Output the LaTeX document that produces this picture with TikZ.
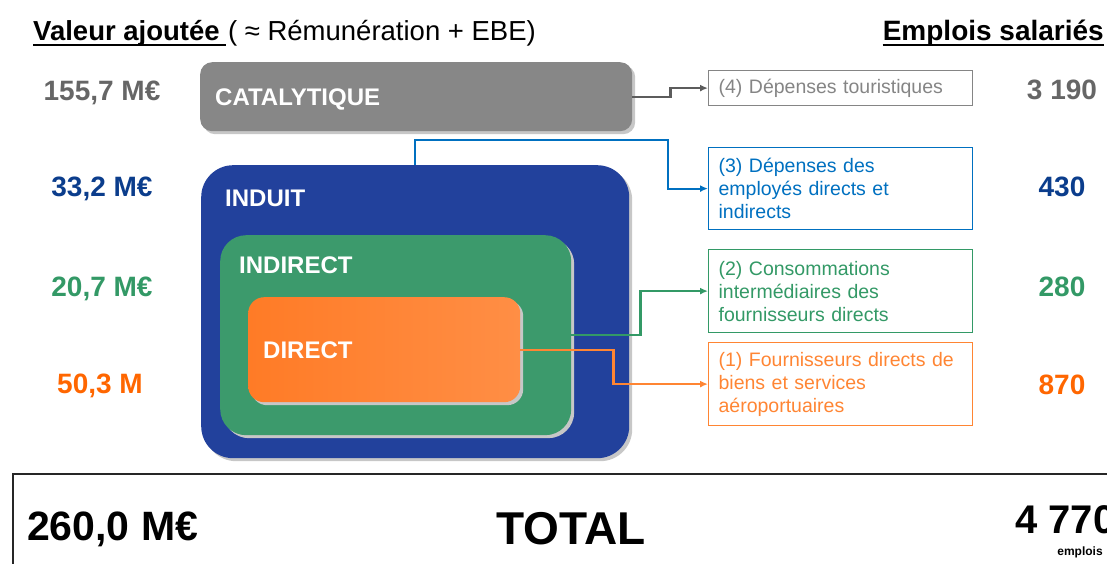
\documentclass[tikz,border=0pt]{standalone}
\usepackage{fontspec}
\setmainfont{Liberation Sans}
\usetikzlibrary{arrows.meta,shadows}
\definecolor{gris}{HTML}{666666}
\definecolor{grisfond}{HTML}{878787}
\definecolor{bleu}{HTML}{0B3D8C}
\definecolor{bleufond}{HTML}{22419C}
\definecolor{bleuclair}{HTML}{0070C0}
\definecolor{vert}{HTML}{339966}
\definecolor{vertfond}{HTML}{3C9A6C}
\definecolor{orange}{HTML}{FF6600}
\definecolor{orangeclair}{HTML}{FF8533}
\definecolor{orangea}{HTML}{FF7B26}
\definecolor{orangeb}{HTML}{FF8E45}
\begin{document}
\begin{tikzpicture}[x=1pt,y=-1pt,
    zone/.style={inner sep=0, anchor=north west, drop shadow={shadow xshift=3pt,shadow yshift=-3pt,fill=black!22,opacity=1}},
    titre/.style={text=white, font=\fontsize{24}{29}\selectfont\bfseries, anchor=base west, inner sep=0},
    chiffre/.style={font=\fontsize{28}{34}\selectfont\bfseries, anchor=base, inner sep=0},
    cadre/.style={draw=#1, text=#1, line width=1.2pt, anchor=north west, text width=244pt, inner xsep=10pt, align=left, font=\fontsize{19.5}{23}\selectfont},
    fleche/.style={draw=#1, line width=2.2pt, -{Latex[length=8pt,width=7pt]}}]
\useasboundingbox (0,0) rectangle (1107,564);
% en-tetes
\node[anchor=base west, inner sep=0, font=\fontsize{27.5}{33}\selectfont\bfseries] (va) at (33,41) {Valeur ajoutée};
\node[anchor=base west, inner sep=0, font=\fontsize{27.5}{33}\selectfont] (vb) at ([xshift=8pt]va.base east) {( ≈ Rémunération + EBE)};
\draw[line width=2pt] ([yshift=-4pt]va.base west) -- ([yshift=-4pt,xshift=6pt]va.base east);
\node[anchor=base east, inner sep=0, font=\fontsize{28}{33}\selectfont\bfseries] (es) at (1104,41) {Emplois salariés};
\draw[line width=2pt] ([yshift=-4pt]es.base west) -- ([yshift=-4pt]es.base east);
% zones
\node[zone, fill=grisfond, rounded corners=12pt, minimum width=432pt, minimum height=69pt] (cat) at (200,62) {};
\node[zone, fill=bleufond, rounded corners=32pt, minimum width=428pt, minimum height=293pt] (ind) at (201,165) {};
\node[zone, fill=vertfond, rounded corners=26pt, minimum width=351pt, minimum height=200pt] (indir) at (220,235) {};
\node[zone, left color=orangea, right color=orangeb, rounded corners=16pt, minimum width=272pt, minimum height=105pt] (dir) at (248,297) {};
\node[titre] at (215,106) {CATALYTIQUE};
\node[titre] at (225,206) {INDUIT};
\node[titre] at (239,273) {INDIRECT};
\node[titre] at (263,358) {DIRECT};
% cadres
\node[cadre=gris!80, minimum height=35pt] (c4) at (708,70) {(4) Dépenses touristiques};
\node[cadre=bleuclair, minimum height=82pt] (c3) at (708,147) {(3) Dépenses des\\employés directs et\\indirects};
\node[cadre=vert, minimum height=83pt] (c2) at (708,249) {(2) Consommations\\intermédiaires des\\fournisseurs directs};
\node[cadre=orangeclair, minimum height=83pt] (c1) at (708,342) {(1) Fournisseurs directs de\\biens et services\\aéroportuaires};
% fleches
\draw[fleche=gris!90!black] (cat.east) -- ++(38,0) |- (c4.west);
\draw[fleche=bleuclair] (ind.north) |- (668,140) |- (c3.west);
\draw[fleche=vert] (indir.east) -- ++(69,0) |- (c2.west);
\draw[fleche=orangeclair] (dir.east) -- ++(93,0) |- (c1.west);
% montants
\node[chiffre, text=gris] (m4) at (102,100.5) {155,7 M€};
\node[chiffre, text=bleu] (m3) at (102,196.5) {33,2 M€};
\node[chiffre, text=vert] (m2) at (102,296.5) {20,7 M€};
\node[chiffre, text=orange] (m1) at (100,393.5) {50,3 M};
\node[chiffre, text=gris] (e4) at (1062,100) {3 190};
\node[chiffre, text=bleu] (e3) at (1062,196.5) {430};
\node[chiffre, text=vert] (e2) at (1062,296.5) {280};
\node[chiffre, text=orange] (e1) at (1062,394.5) {870};
% total
\draw[line width=1.5pt, black!85] (13,564) -- (13,474) -- (1107,474);
\node[anchor=base west, inner sep=0, font=\fontsize{41}{49}\selectfont\bfseries] (mt) at (27,540) {260,0 M€};
\node[anchor=base, inner sep=0, font=\fontsize{46}{55}\selectfont\bfseries] (tot) at (571,544) {TOTAL};
\node[anchor=base west, inner sep=0, font=\fontsize{40}{48}\selectfont\bfseries] (et) at (1015,533) {4 770};
\node[anchor=base, inner sep=0, font=\fontsize{12}{14}\selectfont\bfseries] (emp) at (1080,555) {emplois};
\end{tikzpicture}
\end{document}
